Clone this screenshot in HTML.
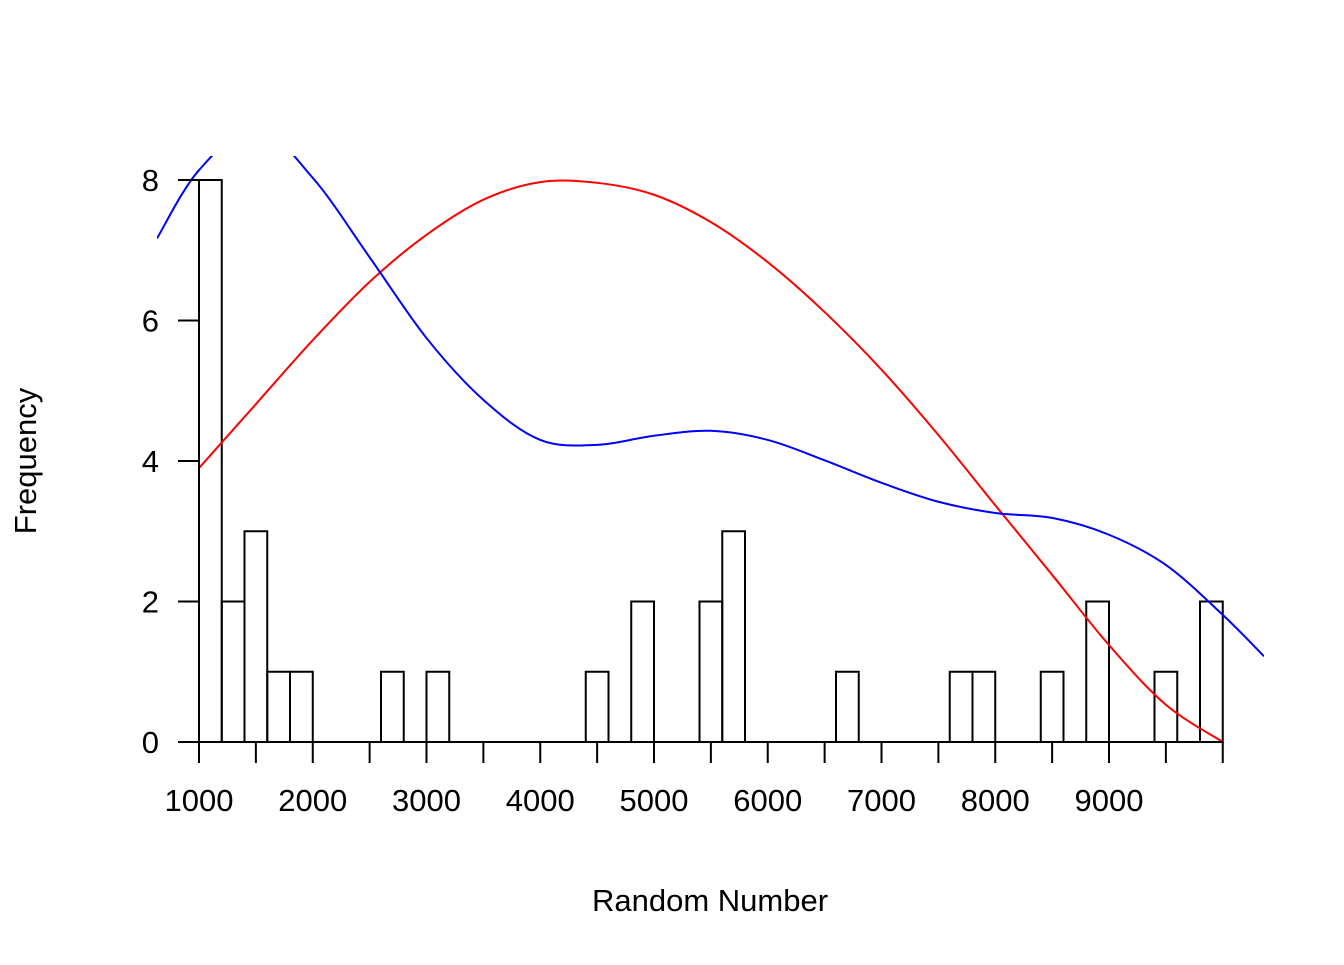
<!DOCTYPE html>
<html><head><meta charset="utf-8"><style>
body{margin:0;background:#fff;}
svg text{font-family:"Liberation Sans",Arial,sans-serif;font-size:31px;fill:#000;}
</style></head><body>
<svg id="chart" width="1344" height="960" xmlns="http://www.w3.org/2000/svg">
<defs><clipPath id="clip"><rect x="157" y="156" width="1107" height="640"/></clipPath></defs>
<g id="bars"></g>
<g id="curves" clip-path="url(#clip)"></g>
<g id="axes"></g>
<text x="710" y="911" text-anchor="middle">Random Number</text>
<text transform="translate(36,461) rotate(-90)" text-anchor="middle">Frequency</text>
</svg>
<script>
const binStart = 1000, binWidth = 200;
const counts = [8,2,3,1,1,0,0,0,1,0, 1,0,0,0,0,0,0,1,0,2, 0,0,2,3,0,0,0,0,1,0, 0,0,0,1,1,0,0,1,0,2, 0,0,1,0,2];
const xTicks = [1000,1500,2000,2500,3000,3500,4000,4500,5000,5500,6000,6500,7000,7500,8000,8500,9000,9500,10000];
const xLabels = [1000,2000,3000,4000,5000,6000,7000,8000,9000];
const yTicks = [0,2,4,6,8];
const redX = [1000,1500,2000,2500,3000,3500,4000,4500,5000,5500,6000,6500,7000,7500,8000,8500,9000,9500,10000];
const redY = [3.9,4.81,5.72,6.55,7.22,7.72,7.97,7.96,7.79,7.4,6.83,6.12,5.3,4.37,3.37,2.38,1.38,0.53,0];
const blueX = [631,1000,1500,2000,2500,3000,3500,4000,4500,5000,5500,6000,6500,7000,7500,8000,8500,9000,9500,10000,10363];
const blueY = [7.17,8.14,8.75,8.03,6.9,5.75,4.87,4.3,4.23,4.36,4.43,4.3,4.01,3.69,3.42,3.26,3.19,2.95,2.52,1.81,1.22];

const sx = v => 199 + (v-1000)*0.11375;
const sy = v => 742 - v*70.25;
const NS='http://www.w3.org/2000/svg';
function mk(tag, attrs, parent){const e=document.createElementNS(NS,tag);for(const k in attrs)e.setAttribute(k,attrs[k]);parent.appendChild(e);return e;}
const bars=document.getElementById('bars');
for(let i=0;i<counts.length;i++){
  const c = counts[i];
  const x0=sx(binStart+i*binWidth), x1=sx(binStart+(i+1)*binWidth);
  const r=mk('rect',{x:x0,y:sy(c),width:x1-x0,height:sy(0)-sy(c),fill:'none',stroke:'#000','stroke-width':2},bars);
  
  
}
function smooth(xs, ys){
  const p=xs.map((x,i)=>[sx(x),sy(ys[i])]);
  let d='M'+p[0][0]+','+p[0][1];
  for(let i=0;i<p.length-1;i++){
    const p0=p[i-1]||p[i],p1=p[i],p2=p[i+1],p3=p[i+2]||p2;
    d+=' C'+(p1[0]+(p2[0]-p0[0])/6)+','+(p1[1]+(p2[1]-p0[1])/6)+' '+(p2[0]-(p3[0]-p1[0])/6)+','+(p2[1]-(p3[1]-p1[1])/6)+' '+p2[0]+','+p2[1];
  }
  return d;
}
const curves=document.getElementById('curves');
const rc=mk('path',{d:smooth(redX,redY),fill:'none',stroke:'#ff0000','stroke-width':2},curves);


const bc=mk('path',{d:smooth(blueX,blueY),fill:'none',stroke:'#0000ff','stroke-width':2},curves);


const axes=document.getElementById('axes');
const xa=mk('line',{x1:sx(xTicks[0]),x2:sx(xTicks[xTicks.length-1]),y1:742,y2:742,stroke:'#000','stroke-width':2},axes);


xTicks.forEach(t=>{const l=mk('line',{x1:sx(t),x2:sx(t),y1:742,y2:763,stroke:'#000','stroke-width':2},axes);
  
  });
xLabels.forEach(t=>{const tx=mk('text',{x:sx(t),y:811,'text-anchor':'middle'},axes);tx.textContent=t;
  
  });
const ya=mk('line',{x1:199,x2:199,y1:sy(0),y2:sy(8),stroke:'#000','stroke-width':2},axes);


yTicks.forEach(t=>{const l=mk('line',{x1:178,x2:199,y1:sy(t),y2:sy(t),stroke:'#000','stroke-width':2},axes);
  
  
  const tx=mk('text',{x:159,y:sy(t)+11,'text-anchor':'end'},axes);tx.textContent=t;
  
  });
</script>
</body></html>
